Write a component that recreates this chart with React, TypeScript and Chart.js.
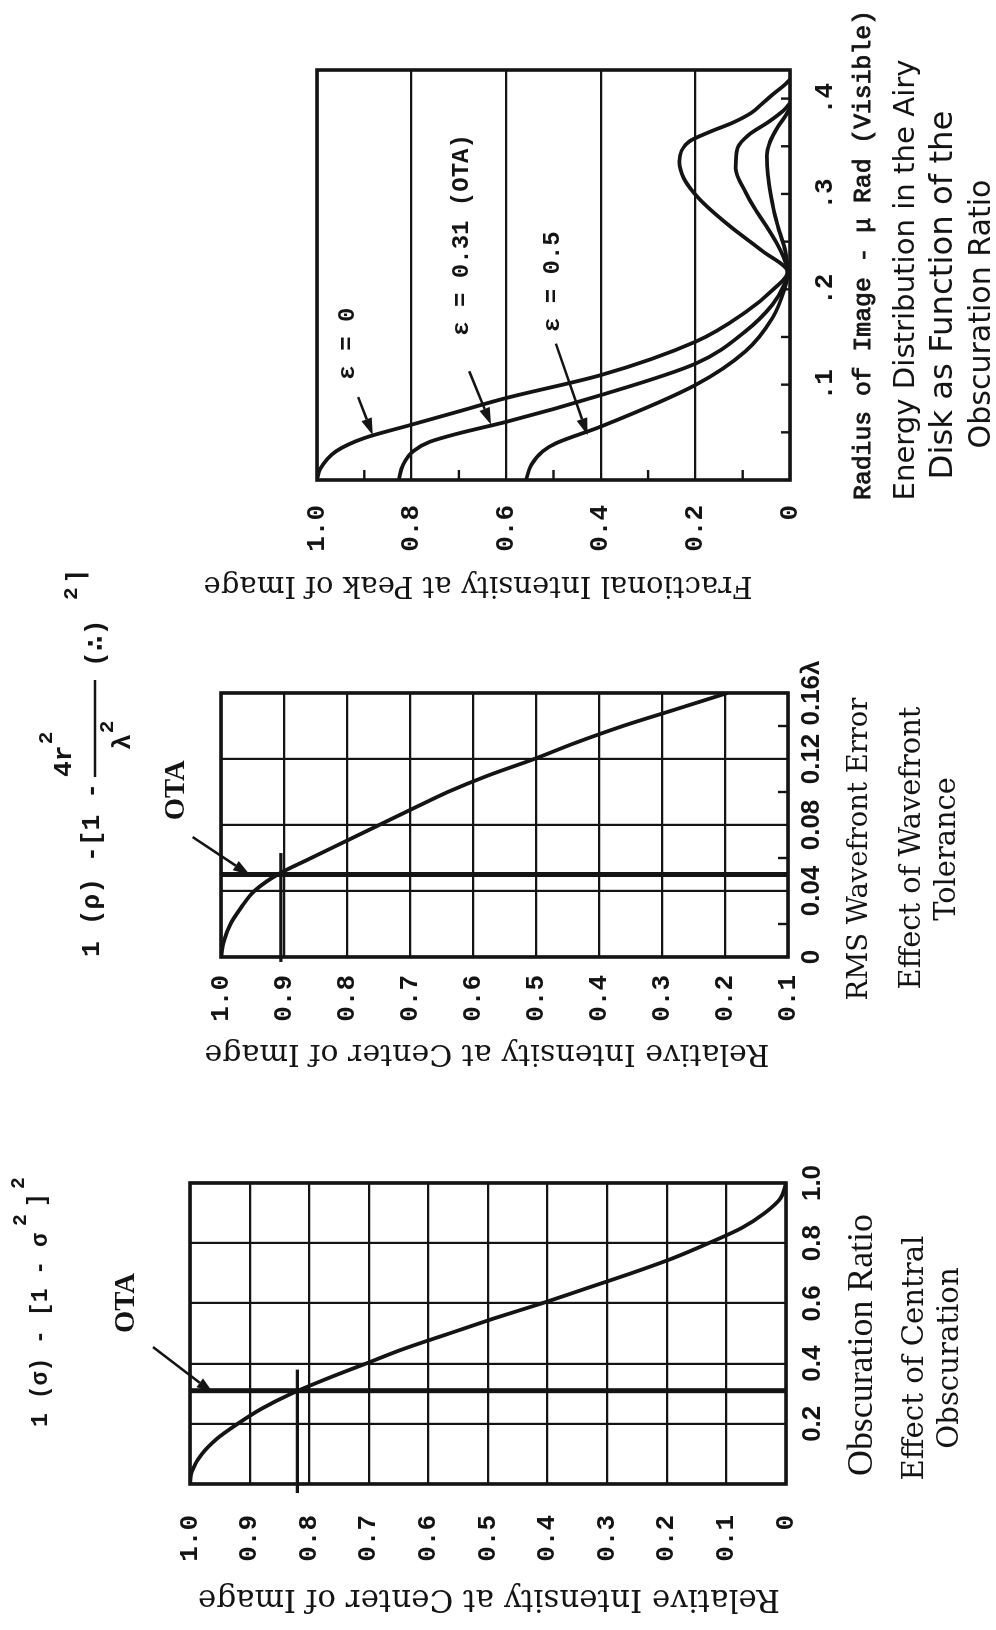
import React, { useEffect, useRef } from "react";
import { Chart, registerables } from "chart.js";

Chart.register(...registerables);

// ---------------- data: Effect of Central Obscuration ----------------
const obscurationRatio = [0, 0.04, 0.1, 0.15, 0.2, 0.25, 0.3, 0.35, 0.4, 0.45, 0.5, 0.55, 0.6, 0.65, 0.7, 0.75, 0.8, 0.85, 0.9, 0.95, 1.0];
const obscurationIntensity = [1.0, 0.997, 0.98, 0.955, 0.92, 0.88, 0.83, 0.77, 0.705, 0.64, 0.565, 0.49, 0.41, 0.335, 0.26, 0.19, 0.13, 0.075, 0.036, 0.009, 0];
const obscurationXLabels = ["", "0.2", "0.4", "0.6", "0.8", "1.0"];
const obscurationYLabels = ["0", "0.1", "0.2", "0.3", "0.4", "0.5", "0.6", "0.7", "0.8", "0.9", "1.0"];
const otaObscuration = 0.31;
const otaObscurationIntensity = 0.82;
const otaObscurationMarkSpan = [-0.03, 0.38];

// ---------------- data: Effect of Wavefront Tolerance ----------------
const rmsWavefrontError = [0, 0.01, 0.02, 0.03, 0.04, 0.05, 0.06, 0.07, 0.08, 0.09, 0.1, 0.11, 0.12, 0.13, 0.14, 0.15, 0.16];
const wavefrontIntensity = [1.0, 0.995, 0.985, 0.968, 0.947, 0.91, 0.857, 0.803, 0.749, 0.695, 0.64, 0.576, 0.503, 0.436, 0.362, 0.279, 0.196];
const wavefrontXLabels = ["0", "0.04", "0.08", "0.12", "0.16\u03bb"];
const wavefrontYLabels = ["0.1", "0.2", "0.3", "0.4", "0.5", "0.6", "0.7", "0.8", "0.9", "1.0"];
const wavefrontMinorTicks = [0.02, 0.06, 0.1, 0.14];
const otaRms = 0.05;
const otaRmsIntensity = 0.905;
const otaRmsMarkSpan = [-0.003, 0.063];

// ---------------- data: Energy Distribution in the Airy Disk ----------------
const radiusEps0 = [0, 0.012, 0.03, 0.044, 0.058, 0.072, 0.086, 0.11, 0.145, 0.176, 0.2, 0.218, 0.24, 0.26, 0.28, 0.3, 0.32, 0.34, 0.355, 0.37, 0.383, 0.39];
const intensityEps0 = [1.0, 0.993, 0.96, 0.9, 0.8, 0.7, 0.6, 0.4, 0.2, 0.094, 0.035, 0.005, 0.01, 0.022, 0.033, 0.041, 0.047, 0.049, 0.042, 0.026, 0.008, 0];
const radiusEps031 = [0, 0.016, 0.03, 0.04, 0.049, 0.061, 0.089, 0.122, 0.156, 0.184, 0.205, 0.218, 0.235, 0.25, 0.267, 0.285, 0.302, 0.327, 0.348, 0.362, 0.376, 0.387, 0.395];
const intensityEps031 = [0.827, 0.818, 0.797, 0.762, 0.7, 0.6, 0.4, 0.2, 0.094, 0.037, 0.012, 0.005, 0.015, 0.03, 0.051, 0.075, 0.094, 0.115, 0.111, 0.087, 0.044, 0.015, 0];
const radiusEps05 = [0, 0.016, 0.03, 0.0385, 0.056, 0.0996, 0.135, 0.17, 0.2, 0.218, 0.24, 0.267, 0.295, 0.316, 0.334, 0.355, 0.365, 0.375, 0.385, 0.395, 0.405, 0.415, 0.42];
const intensityEps05 = [0.558, 0.547, 0.523, 0.495, 0.4, 0.2, 0.094, 0.037, 0.012, 0.005, 0.058, 0.129, 0.192, 0.224, 0.234, 0.213, 0.17, 0.12, 0.082, 0.058, 0.035, 0.01, 0];
const radiusXLabels = ["", ".1", ".2", ".3", ".4"];
const peakYLabels = ["0", "0.2", "0.4", "0.6", "0.8", "1.0"];
const radiusMinorTicks = [0.05, 0.1, 0.15, 0.2, 0.25, 0.3, 0.35, 0.4];
const peakMinorTicks = [0.1, 0.3, 0.5, 0.7, 0.9];
const epsLabels = ["\u03b5 = 0", "\u03b5 = 0.31 (OTA)", "\u03b5 = 0.5"];
const epsLabelAt = [[0.143, 0.934], [0.257, 0.693], [0.208, 0.502]];
const epsArrowFrom = [[0.087, 0.913], [0.114, 0.678], [0.143, 0.495]];
const epsArrowTo = [[0.047, 0.882], [0.058, 0.632], [0.047, 0.428]];

// annotation anchors (data units)
const otaLabel1 = [0.601, 1.106];
const otaArrow1 = [[0.455, 1.062], [0.302, 0.961]];
const otaLabel2 = [0.101, 1.07];
const otaArrow2 = [[0.0727, 1.045], [0.0497, 0.954]];

// ---------------- layout / style ----------------
const W = 1630;
const H = 996;
const INK = "#141414";
const MONO = '"Liberation Mono", "DejaVu Sans Mono", monospace';
const SANS = '"DejaVu Sans", sans-serif';
const SERIF = '"DejaVu Serif", serif';
const TIMES = '"Liberation Serif", serif';
const NARROW = '"Liberation Sans Narrow", "Liberation Sans", sans-serif';

type Box = { left: number; right: number; top: number; bottom: number };
const AREA1: Box = { left: 146, right: 447, top: 190, bottom: 786 };
const AREA2: Box = { left: 673, right: 937, top: 221, bottom: 788 };
const AREA3: Box = { left: 1150, right: 1560, top: 317, bottom: 790 };
const Y_W = 90;
const X_H = 60;

function layoutFor(a: Box) {
  return { padding: { left: a.left - Y_W, right: W - a.right, top: a.top, bottom: H - a.bottom - X_H } };
}

function axis(kind: "x" | "y", min: number, max: number, step: number, labels: string[], font: any, padding: number, grid = true) {
  return {
    type: "linear",
    position: kind === "x" ? "bottom" : "left",
    min,
    max,
    afterFit: (s: any) => {
      if (kind === "x") s.height = X_H;
      else s.width = Y_W;
    },
    ticks: {
      stepSize: step,
      includeBounds: false,
      autoSkip: false,
      maxRotation: 0,
      minRotation: 0,
      padding,
      color: INK,
      font,
      callback: (_v: any, i: number) => (labels[i] !== undefined ? labels[i] : ""),
    },
    grid: { display: grid, color: INK, lineWidth: 2.2, drawTicks: false },
    border: { display: false },
  };
}

function pts(xs: number[], ys: number[]) {
  return xs.map((x, i) => ({ x, y: ys[i] }));
}

function curve(data: any[]) {
  return { data, borderColor: INK, borderWidth: 3.8, pointRadius: 0, cubicInterpolationMode: "monotone", fill: false };
}

function straight(data: any[], width: number, clip = true) {
  const d: any = { data, borderColor: INK, borderWidth: width, pointRadius: 0, tension: 0, fill: false, borderCapStyle: "butt" };
  if (!clip) d.clip = false;
  return d;
}

function baseOptions(area: Box, x: any, y: any) {
  return {
    responsive: false,
    animation: false,
    events: [],
    layout: layoutFor(area),
    plugins: { legend: { display: false }, tooltip: { enabled: false }, title: { display: false } },
    scales: { x, y },
  };
}

// ---------------- drawing helpers ----------------
function fnt(weight: string, size: number, family: string) {
  return `${weight} ${size.toFixed(2)}px ${family}`;
}
function fitPx(ctx: CanvasRenderingContext2D, str: string, weight: string, family: string, width: number) {
  ctx.save();
  ctx.font = fnt(weight, 100, family);
  const w = ctx.measureText(str).width;
  ctx.restore();
  return (100 * width) / w;
}
function put(ctx: CanvasRenderingContext2D, str: string, x: number, y: number, font: string, align: CanvasTextAlign = "center", rot = 0, stroke = 0) {
  ctx.save();
  ctx.translate(x, y);
  if (rot) ctx.rotate(rot);
  ctx.font = font;
  ctx.textAlign = align;
  ctx.textBaseline = "middle";
  ctx.fillStyle = INK;
  ctx.fillText(str, 0, 0);
  if (stroke > 0) {
    ctx.strokeStyle = INK;
    ctx.lineWidth = stroke;
    ctx.strokeText(str, 0, 0);
  }
  ctx.restore();
}
function textWidth(ctx: CanvasRenderingContext2D, str: string, font: string) {
  ctx.save();
  ctx.font = font;
  const w = ctx.measureText(str).width;
  ctx.restore();
  return w;
}
function arrow(ctx: CanvasRenderingContext2D, x1: number, y1: number, x2: number, y2: number, lw = 2.6, head = 17, half = 5.5) {
  const a = Math.atan2(y2 - y1, x2 - x1);
  const bx = x2 - head * Math.cos(a);
  const by = y2 - head * Math.sin(a);
  ctx.save();
  ctx.strokeStyle = INK;
  ctx.fillStyle = INK;
  ctx.lineWidth = lw;
  ctx.beginPath();
  ctx.moveTo(x1, y1);
  ctx.lineTo(bx, by);
  ctx.stroke();
  ctx.beginPath();
  ctx.moveTo(x2, y2);
  ctx.lineTo(bx + half * Math.sin(a), by - half * Math.cos(a));
  ctx.lineTo(bx - half * Math.sin(a), by + half * Math.cos(a));
  ctx.closePath();
  ctx.fill();
  ctx.restore();
}
function frame(ctx: CanvasRenderingContext2D, a: any) {
  ctx.save();
  ctx.strokeStyle = INK;
  ctx.lineWidth = 3.6;
  ctx.strokeRect(a.left, a.top, a.right - a.left, a.bottom - a.top);
  ctx.restore();
}
function minorX(ctx: CanvasRenderingContext2D, chart: any, values: number[], len: number) {
  const a = chart.chartArea;
  ctx.save();
  ctx.strokeStyle = INK;
  ctx.lineWidth = 2.4;
  values.forEach((v) => {
    const px = chart.scales.x.getPixelForValue(v);
    ctx.beginPath();
    ctx.moveTo(px, a.bottom);
    ctx.lineTo(px, a.bottom - len);
    ctx.stroke();
  });
  ctx.restore();
}
function minorY(ctx: CanvasRenderingContext2D, chart: any, values: number[], len: number) {
  const a = chart.chartArea;
  ctx.save();
  ctx.strokeStyle = INK;
  ctx.lineWidth = 2.4;
  values.forEach((v) => {
    const py = chart.scales.y.getPixelForValue(v);
    ctx.beginPath();
    ctx.moveTo(a.left, py);
    ctx.lineTo(a.left + len, py);
    ctx.stroke();
  });
  ctx.restore();
}

function overlay(id: string, draw: (chart: any, ctx: CanvasRenderingContext2D) => void) {
  return {
    id,
    afterDraw(chart: any) {
      const ctx = chart.ctx as CanvasRenderingContext2D;
      ctx.save();
      draw(chart, ctx);
      ctx.restore();
    },
  };
}

const Y_TITLE_CENTER = "Relative Intensity at Center of Image";
const Y_TITLE_PEAK = "Fractional Intensity at Peak of Image";
const TICK_Y_FONT = { family: MONO, size: 26, weight: "bold" };

// ---------------- chart 1 ----------------
function draw1(chart: any, ctx: CanvasRenderingContext2D) {
  const { x, y } = chart.scales;
  frame(ctx, chart.chartArea);
  const os = fitPx(ctx, "OTA", "bold", TIMES, 60);
  put(ctx, "OTA", x.getPixelForValue(otaLabel1[0]), y.getPixelForValue(otaLabel1[1]), fnt("bold", os, TIMES));
  arrow(ctx, x.getPixelForValue(otaArrow1[0][0]), y.getPixelForValue(otaArrow1[0][1]), x.getPixelForValue(otaArrow1[1][0]), y.getPixelForValue(otaArrow1[1][1]));
  const ts = fitPx(ctx, Y_TITLE_CENTER, "normal", SERIF, 582);
  put(ctx, Y_TITLE_CENTER, 32, 489, fnt("normal", ts, SERIF), "center", -Math.PI / 2);
  const xs = fitPx(ctx, "Obscuration Ratio", "normal", TIMES, 262);
  put(ctx, "Obscuration Ratio", 285, 863, fnt("normal", xs, TIMES));
  const cs = fitPx(ctx, "Effect of Central", "normal", SERIF, 245);
  put(ctx, "Effect of Central", 272, 915, fnt("normal", cs, SERIF));
  put(ctx, "Obscuration", 272, 950, fnt("normal", cs, SERIF));
  // formula
  const main = "1 (\u03c3) - [1 - \u03c3";
  const fs = fitPx(ctx, main, "bold", MONO, 194);
  put(ctx, main, 203, 41, fnt("bold", fs, MONO), "left");
  put(ctx, "2", 404, 21, fnt("bold", fs * 0.85, MONO), "left");
  put(ctx, "]", 423, 38, fnt("bold", fs, MONO), "left");
  put(ctx, "2", 441, 19, fnt("bold", fs * 0.85, MONO), "left");
}

function makeChart1(canvas: HTMLCanvasElement) {
  return new Chart(canvas as any, {
    type: "line",
    data: {
      datasets: [
        curve(pts(obscurationRatio, obscurationIntensity)),
        straight([{ x: otaObscuration, y: 0 }, { x: otaObscuration, y: 1 }], 5),
        straight([{ x: otaObscurationMarkSpan[0], y: otaObscurationIntensity }, { x: otaObscurationMarkSpan[1], y: otaObscurationIntensity }], 3.2, false),
      ],
    } as any,
    options: baseOptions(
      AREA1,
      axis("x", 0, 1, 0.2, obscurationXLabels, { family: NARROW, size: 26, weight: "bold" }, 11),
      axis("y", 0, 1, 0.1, obscurationYLabels, TICK_Y_FONT, 31)
    ) as any,
    plugins: [overlay("ov1", draw1)],
  });
}

// ---------------- chart 2 ----------------
function draw2(chart: any, ctx: CanvasRenderingContext2D) {
  const { x, y } = chart.scales;
  frame(ctx, chart.chartArea);
  minorX(ctx, chart, wavefrontMinorTicks, 10);
  const os = fitPx(ctx, "OTA", "bold", TIMES, 60);
  put(ctx, "OTA", x.getPixelForValue(otaLabel2[0]), y.getPixelForValue(otaLabel2[1]), fnt("bold", os, TIMES));
  arrow(ctx, x.getPixelForValue(otaArrow2[0][0]), y.getPixelForValue(otaArrow2[0][1]), x.getPixelForValue(otaArrow2[1][0]), y.getPixelForValue(otaArrow2[1][1]));
  const ts = fitPx(ctx, Y_TITLE_CENTER, "normal", SERIF, 565);
  put(ctx, Y_TITLE_CENTER, 577, 487, fnt("normal", ts, SERIF), "center", -Math.PI / 2);
  const xs = fitPx(ctx, "RMS Wavefront Error", "normal", SERIF, 303);
  put(ctx, "RMS Wavefront Error", 781, 860, fnt("normal", xs, SERIF));
  const cs = fitPx(ctx, "Effect of Wavefront", "normal", SERIF, 283);
  put(ctx, "Effect of Wavefront", 782, 912, fnt("normal", cs, SERIF));
  put(ctx, "Tolerance", 781, 947, fnt("normal", cs, SERIF));
  // formula
  const main = "1 (\u03c1) -[1 -";
  const fs = fitPx(ctx, main, "bold", MONO, 174);
  const F = fnt("bold", fs, MONO);
  const S = fnt("bold", fs * 0.8, MONO);
  put(ctx, main, 673, 92, F, "left");
  put(ctx, "4r", 853, 64, F, "left");
  put(ctx, "2", 853 + textWidth(ctx, "4r", F) + 1, 47, S, "left");
  ctx.save();
  ctx.strokeStyle = INK;
  ctx.lineWidth = 2.6;
  ctx.beginPath();
  ctx.moveTo(853, 95);
  ctx.lineTo(950, 95);
  ctx.stroke();
  ctx.restore();
  put(ctx, "\u03bb", 880, 123, F, "left");
  put(ctx, "2", 880 + textWidth(ctx, "\u03bb", F) + 1, 108, S, "left");
  put(ctx, "(\u2234)", 963, 96, F, "left");
  put(ctx, "2", 1030, 72, S, "left");
  put(ctx, "\u2309", 1046, 78, F, "left");
}

function makeChart2(canvas: HTMLCanvasElement) {
  return new Chart(canvas as any, {
    type: "line",
    data: {
      datasets: [
        curve(pts(rmsWavefrontError, wavefrontIntensity)),
        straight([{ x: otaRms, y: 0.1 }, { x: otaRms, y: 1 }], 5),
        straight([{ x: otaRmsMarkSpan[0], y: otaRmsIntensity }, { x: otaRmsMarkSpan[1], y: otaRmsIntensity }], 3.2, false),
      ],
    } as any,
    options: baseOptions(
      AREA2,
      axis("x", 0, 0.16, 0.04, wavefrontXLabels, { family: NARROW, size: 26, weight: "bold" }, 8),
      axis("y", 0.1, 1, 0.1, wavefrontYLabels, TICK_Y_FONT, 18)
    ) as any,
    plugins: [overlay("ov2", draw2)],
  });
}

// ---------------- chart 3 ----------------
function draw3(chart: any, ctx: CanvasRenderingContext2D) {
  const { x, y } = chart.scales;
  frame(ctx, chart.chartArea);
  minorX(ctx, chart, radiusMinorTicks, 9);
  minorY(ctx, chart, peakMinorTicks, 10);
  const EF = fnt("bold", 24, MONO);
  epsLabels.forEach((lab, i) => {
    put(ctx, lab, x.getPixelForValue(epsLabelAt[i][0]), y.getPixelForValue(epsLabelAt[i][1]), EF);
    arrow(ctx, x.getPixelForValue(epsArrowFrom[i][0]), y.getPixelForValue(epsArrowFrom[i][1]), x.getPixelForValue(epsArrowTo[i][0]), y.getPixelForValue(epsArrowTo[i][1]));
  });
  const ts = fitPx(ctx, Y_TITLE_PEAK, "normal", SERIF, 549);
  put(ctx, Y_TITLE_PEAK, 1045, 478, fnt("normal", ts, SERIF), "center", -Math.PI / 2);
  const xt = "Radius of Image - \u03bc Rad (Visible)";
  const xs = fitPx(ctx, xt, "normal", MONO, 490);
  put(ctx, xt, 1375, 863, fnt("normal", xs, MONO), "center", 0, 0.9);
  const lines = ["Energy Distribution in the Airy", "Disk as Function of the", "Obscuration Ratio"];
  const widths = [441, 369, 269];
  const centersU = [1350, 1335, 1316];
  const centersV = [906, 944, 982];
  lines.forEach((ln, i) => {
    const s = fitPx(ctx, ln, "normal", SANS, widths[i]);
    put(ctx, ln, centersU[i], centersV[i], fnt("normal", s, SANS));
  });
}

function makeChart3(canvas: HTMLCanvasElement) {
  return new Chart(canvas as any, {
    type: "line",
    data: {
      datasets: [
        curve(pts(radiusEps0, intensityEps0)),
        curve(pts(radiusEps031, intensityEps031)),
        curve(pts(radiusEps05, intensityEps05)),
      ],
    } as any,
    options: baseOptions(
      AREA3,
      axis("x", 0, 0.43, 0.1, radiusXLabels, { family: MONO, size: 26, weight: "bold" }, 20, false),
      axis("y", 0, 1, 0.2, peakYLabels, TICK_Y_FONT, 25)
    ) as any,
    plugins: [overlay("ov3", draw3)],
  });
}

// ---------------- React ----------------
function ChartCanvas({ make }: { make: (c: HTMLCanvasElement) => Chart }) {
  const ref = useRef<HTMLCanvasElement | null>(null);
  useEffect(() => {
    if (!ref.current) return;
    const chart = make(ref.current);
    return () => chart.destroy();
  }, [make]);
  return <canvas ref={ref} width={W} height={H} style={{ position: "absolute", left: 0, top: 0, width: W, height: H }} />;
}

export default function App() {
  return (
    <div style={{ position: "absolute", left: 0, top: 0, width: 996, height: 1630, overflow: "hidden", background: "#fff" }}>
      <div
        style={{
          position: "absolute",
          left: 0,
          top: 0,
          width: W,
          height: H,
          transformOrigin: "0 0",
          transform: `translate(0px, ${W}px) rotate(-90deg)`,
          background: "#fff",
        }}
      >
        <ChartCanvas make={makeChart1} />
        <ChartCanvas make={makeChart2} />
        <ChartCanvas make={makeChart3} />
      </div>
    </div>
  );
}
